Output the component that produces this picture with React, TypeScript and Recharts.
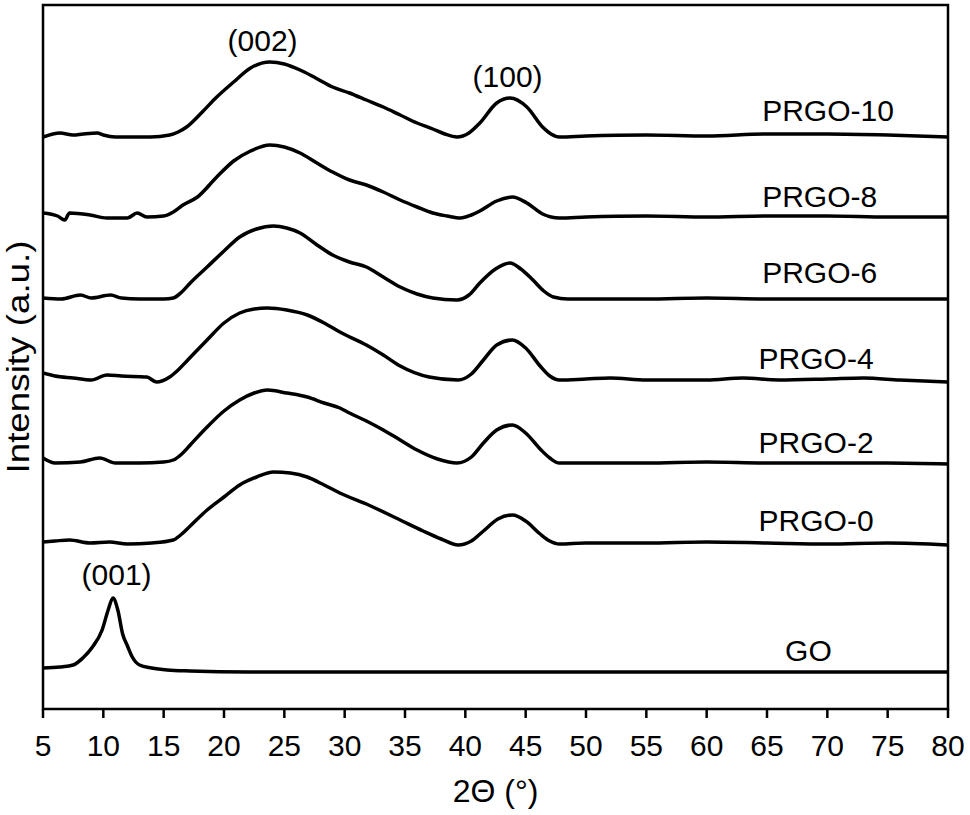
import React from 'react';
import { LineChart, Line, XAxis, YAxis, ReferenceArea, ReferenceDot } from 'recharts';

// XRD patterns: [2θ (°), intensity above the pattern's own baseline (a.u.)]
const go: [number, number][] = [
  [5, 4], [6.4, 5], [7.5, 7], [8.3, 14], [9.1, 25], [9.9, 42], [10.4, 62], [10.8, 74], [11.2, 62],
  [11.6, 38], [12.0, 26], [12.4, 15], [13.0, 7], [14, 4], [15.3, 2], [17.2, 1], [22, 0], [30, 0],
  [40, 0], [50, 0], [60, 0], [70, 0], [80, 0],
];
const prgo0: [number, number][] = [
  [5, 2], [6, 3], [7.2, 4], [8.9, 1], [10.5, 2], [12, 0], [14, 1], [15.8, 4], [16.5, 10], [17.2, 18],
  [18.6, 34], [20, 47], [21.3, 59], [22.7, 67], [24.1, 72], [25.5, 71], [26.9, 67], [28.3, 59],
  [29.6, 51], [31.8, 40], [34.6, 24], [36.5, 13], [38, 5], [39.4, -1], [40.5, 3], [41.5, 13],
  [42.7, 25], [43.9, 29], [45, 23], [46.2, 10], [47, 3], [47.8, 0], [50, 1], [55, 1], [60, 2],
  [65, 1], [70, 0], [75, 1], [80, -1],
];
const prgo2: [number, number][] = [
  [5, 5], [6, 0], [8.1, 1], [9.7, 5], [11, 0], [13, 0], [15, 1], [15.8, 3], [16.5, 9], [17.2, 18],
  [18.6, 36], [20, 52], [21.3, 63], [22.5, 70], [23.6, 73], [25.2, 70], [26.9, 66], [28.3, 60],
  [29.6, 55], [30.4, 50], [31.8, 42], [33.2, 33], [34.6, 23], [36, 13], [37.7, 4], [39.3, 0],
  [40.5, 6], [41.5, 20], [42.6, 33], [43.9, 38], [45, 30], [46.2, 14], [47, 5], [47.8, 0],
  [49, 0], [55, 0], [60, 1], [65, 0], [70, 0], [75, 0], [80, -1],
];
const prgo4: [number, number][] = [
  [5, 7], [6, 4], [7.5, 2], [9, 0], [10.3, 5], [11.5, 4], [13.6, 3], [14.4, -2], [15.5, 3],
  [16.2, 10], [17, 20], [18.6, 40], [20, 57], [21.3, 67], [22.5, 71], [23.6, 72], [25.2, 70],
  [26.9, 65], [28.3, 57], [29.6, 48], [31.8, 35], [33.2, 25], [34.6, 14], [37, 3], [39.4, 0],
  [40.5, 6], [41.5, 20], [42.6, 35], [43.9, 40], [45, 32], [46.2, 14], [47, 4], [47.8, 0],
  [50, 1], [52, 2], [55, 0], [60, 0], [63, 2], [66, 0], [70, 1], [73, 2], [76, 0], [80, -2],
];
const prgo6: [number, number][] = [
  [5, 1], [6.5, 0], [8.1, 4], [9, 1], [10.6, 4], [11.5, 1], [13, 0], [15, 0], [15.8, 1], [16.5, 7],
  [17.2, 16], [18.6, 32], [20, 48], [21.3, 62], [22.7, 70], [24.1, 73], [25.2, 71], [26.3, 66],
  [27.6, 55], [29, 44], [30.4, 37], [31.8, 32], [33.2, 22], [34.6, 12], [36, 5], [37.3, 1],
  [39.3, -1], [40.3, 4], [41.2, 16], [42.5, 30], [43.7, 36], [44.6, 30], [45.6, 19], [46.5, 8],
  [47.3, 2], [48.5, 0], [55, 0], [60, 1], [65, 0], [70, 0], [75, 0], [80, 0],
];
const prgo8: [number, number][] = [
  [5, 4], [6.2, 1], [6.8, -3], [7.2, 4], [8.9, 2], [10.3, -1], [12, -1], [12.8, 4], [13.6, 0],
  [15, 1], [15.8, 5], [16.6, 12], [17.8, 20], [19.4, 40], [20.8, 56], [22.2, 66], [23.8, 72],
  [25, 70], [26.3, 64], [27.7, 54], [29, 45], [30.4, 37], [31.8, 32], [33.2, 25], [34.6, 17],
  [36, 10], [37.3, 4], [38.5, 1], [39.6, -1], [40.5, 2], [41.2, 6], [42.6, 16], [43.9, 20],
  [45.1, 14], [46.4, 3], [47.8, -1], [50, 0], [55, 1], [60, 0], [65, 1], [70, 1], [75, 0], [80, 0],
];
const prgo10: [number, number][] = [
  [5, -1], [6.4, 3], [7.5, 1], [8.3, 2], [9.5, 3], [10, 1], [11, -1], [13.9, -1], [15.5, 1],
  [16.2, 4], [16.9, 9], [18.2, 24], [19.4, 39], [20.8, 54], [22.2, 68], [23.8, 74], [25, 72],
  [26.3, 66], [27.6, 58], [29, 49], [30.4, 43], [31.8, 36], [33.2, 29], [34.6, 21], [36, 13],
  [37.3, 7], [38.3, 2], [39.3, -1], [40.3, 3], [41.2, 13], [42.6, 33], [43.7, 38], [45.1, 29],
  [46.4, 9], [47.1, 2], [47.8, -1], [50, 0], [55, 1], [60, 0], [65, 2], [70, 2], [75, 1], [80, -1],
];

const seriesNames = ['GO', 'PRGO-0', 'PRGO-2', 'PRGO-4', 'PRGO-6', 'PRGO-8', 'PRGO-10'];
const patterns = [go, prgo0, prgo2, prgo4, prgo6, prgo8, prgo10];
// vertical stacking offset of each pattern
const offsets = [37, 165, 246, 329, 410, 492, 573];
// where the sample name sits: 2θ of its left edge, height above the baseline
const nameTheta = [66.5, 64.3, 64.3, 64.3, 64.6, 64.6, 64.6];
const nameLift = [22, 24, 21, 22, 27, 21, 26];

const peakNames = ['(001)', '(002)', '(100)'];
const peakTheta = [11.1, 23.2, 43.5];
const peakY = [135, 669, 633];

const xTicks = [5, 10, 15, 20, 25, 30, 35, 40, 45, 50, 55, 60, 65, 70, 75, 80];

const YTitle = ({ viewBox }: any) => {
  const cx = viewBox.x + 17.5;
  const cy = viewBox.y + viewBox.height / 2;
  return (
    <text
      x={0}
      y={0}
      dy="0.355em"
      transform={`translate(${cx} ${cy}) rotate(-90) scale(1.15 1)`}
      textAnchor="middle"
      fontSize={32}
      fill="#000"
    >
      Intensity (a.u.)
    </text>
  );
};

export default function App() {
  return (
    <div style={{ position: 'absolute', left: 0, top: 0, fontFamily: '"Liberation Sans", Arial, sans-serif', background: '#fff' }}>
      <LineChart width={970} height={815} margin={{ top: 5, right: 22, left: 0, bottom: 0 }}>
        <XAxis
          dataKey="t"
          type="number"
          domain={[5, 80]}
          ticks={xTicks}
          allowDataOverflow
          height={106}
          axisLine={false}
          tickSize={9}
          tickMargin={17}
          tickLine={{ stroke: '#000', strokeWidth: 2.5 }}
          tick={{ fill: '#000', fontSize: 30 }}
          label={{ value: '2Θ (°)', position: 'insideBottom', offset: 13, fill: '#000', fontSize: 32 }}
        />
        <YAxis
          type="number"
          domain={[0, 704]}
          allowDataOverflow
          width={43}
          tick={false}
          tickLine={false}
          axisLine={false}
          label={{ content: YTitle }}
        />
        <ReferenceArea x1={5} x2={80} y1={0} y2={704} fill="none" stroke="#000" strokeWidth={2.5} />
        {patterns.map((p, i) => (
          <Line
            key={seriesNames[i]}
            data={p.map(([t, v]) => ({ t, v: v + offsets[i] }))}
            dataKey="v"
            type="monotone"
            stroke="#000"
            strokeWidth={3.5}
            dot={false}
            isAnimationActive={false}
          />
        ))}
        {seriesNames.map((name, i) => (
          <ReferenceDot
            key={name}
            x={nameTheta[i]}
            y={offsets[i] + nameLift[i]}
            r={0}
            fill="none"
            stroke="none"
            label={{ value: name, position: 'right', offset: 0, fill: '#000', fontSize: 30 }}
          />
        ))}
        {peakNames.map((name, i) => (
          <ReferenceDot
            key={name}
            x={peakTheta[i]}
            y={peakY[i]}
            r={0}
            fill="none"
            stroke="none"
            label={{ value: name, position: 'center', fill: '#000', fontSize: 30 }}
          />
        ))}
      </LineChart>
    </div>
  );
}
